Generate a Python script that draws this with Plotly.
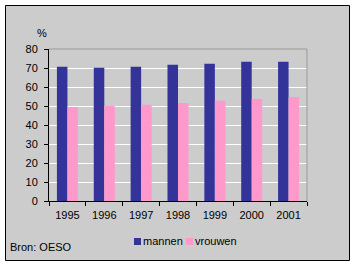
import plotly.graph_objects as go

years = ["1995", "1996", "1997", "1998", "1999", "2000", "2001"]
mannen = [70.6, 70.1, 70.6, 71.7, 72.2, 73.3, 73.3]
vrouwen = [49.5, 50.0, 50.6, 51.6, 52.7, 53.7, 54.8]
y_ticks = [0, 10, 20, 30, 40, 50, 60, 70, 80]
series_names = ["mannen", "vrouwen"]
series_colors = ["#333399", "#FF99CC"]

W, H = 356, 266
L, R, T, B = 49, 49, 49, 65
pw, ph = W - L - R, H - T - B

def px_x(x):
    return (x - L) / pw

def px_y(y):
    return (H - B - y) / ph

font = "Liberation Sans, Arial, sans-serif"

fig = go.Figure()
for name, vals, col in zip(series_names, [mannen, vrouwen], series_colors):
    fig.add_trace(go.Bar(x=years, y=vals, name=name, showlegend=False,
                         marker=dict(color=col, line=dict(width=0))))

shapes = [
    dict(type="rect", xref="paper", yref="paper", x0=px_x(5.5), x1=px_x(349.5),
         y0=px_y(260.5), y1=px_y(5.5), fillcolor="#CCCCCC",
         line=dict(color="black", width=1), layer="below"),
    dict(type="line", xref="paper", yref="paper", x0=0, x1=1, y0=1, y1=1,
         line=dict(color="#999999", width=1)),
    dict(type="line", xref="paper", yref="paper", x0=1, x1=1, y0=0, y1=1,
         line=dict(color="#999999", width=1)),
]
annotations = [
    dict(text="%", xref="paper", yref="paper", x=px_x(42), y=px_y(33), showarrow=False,
         xanchor="center", yanchor="middle", font=dict(size=11)),
    dict(text="Bron: OESO", xref="paper", yref="paper", x=px_x(8), y=px_y(247), showarrow=False,
         xanchor="left", yanchor="middle", font=dict(size=11)),
]

# manual legend (small swatches right next to the text)
legend_x = [134, 186]
for name, col, lx in zip(series_names, series_colors, legend_x):
    shapes.append(dict(type="rect", xref="paper", yref="paper", x0=px_x(lx), x1=px_x(lx + 7),
                       y0=px_y(245), y1=px_y(238), fillcolor=col, line=dict(width=0)))
    annotations.append(dict(text=name, xref="paper", yref="paper", x=px_x(lx + 7), y=px_y(241),
                            showarrow=False, xanchor="left", yanchor="middle",
                            font=dict(size=11)))

fig.update_layout(
    width=W, height=H,
    margin=dict(l=L, r=R, t=T, b=B, pad=0),
    paper_bgcolor="white",
    plot_bgcolor="#CCCCCC",
    barmode="group",
    bargap=0.43,
    bargroupgap=0,
    font=dict(family=font, size=11, color="black"),
    showlegend=False,
    xaxis=dict(type="category", showgrid=False, showline=True, linecolor="black", linewidth=1,
               ticks="outside", ticklen=4, tickcolor="black", tickson="boundaries",
               ticklabelstandoff=4,
               tickfont=dict(size=11), fixedrange=True),
    yaxis=dict(range=[0, 80], tickvals=y_ticks, showgrid=True, gridcolor="white", gridwidth=1,
               showline=True, linecolor="black", linewidth=1, ticks="outside", ticklen=4,
               tickcolor="black", zeroline=False, ticklabelstandoff=4,
               tickfont=dict(size=11), fixedrange=True),
    shapes=shapes,
    annotations=annotations,
)

fig.write_html("out.html", config={"displayModeBar": False})
